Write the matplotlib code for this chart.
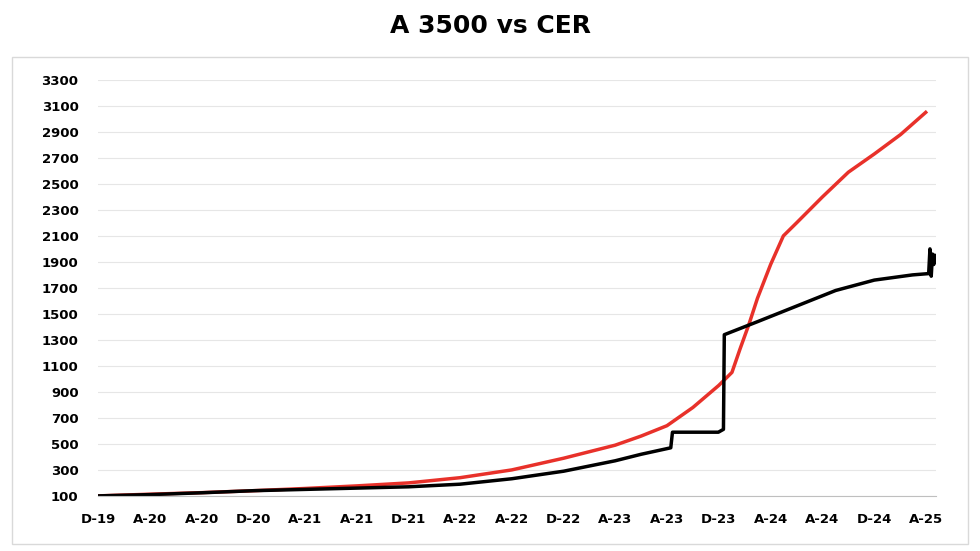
import pandas as pd
import matplotlib.pyplot as plt
from matplotlib.patches import Rectangle

# CER index (base 100 = Dec-19), monthly
cer_dates = ["2019-12-01", "2020-04-01", "2020-08-01", "2020-12-01", "2021-04-01",
             "2021-08-01", "2021-12-01", "2022-04-01", "2022-08-01", "2022-12-01",
             "2023-04-01", "2023-06-01", "2023-08-01", "2023-10-01", "2023-12-01",
             "2024-01-01", "2024-01-20", "2024-02-10", "2024-03-01", "2024-04-01",
             "2024-05-01", "2024-06-01", "2024-08-01", "2024-10-01", "2024-12-01",
             "2025-02-01", "2025-04-01"]
cer_vals = [100, 113, 125, 140, 157, 177, 200, 240, 300, 390, 490, 560, 640, 780, 950,
            1050, 1230, 1420, 1620, 1880, 2100, 2200, 2400, 2590, 2730, 2880, 3050]

# A 3500 rebased (100 = Dec-19)
fx_dates = ["2019-12-01", "2020-04-01", "2020-08-01", "2020-12-01", "2021-04-01",
            "2021-08-01", "2021-12-01", "2022-04-01", "2022-08-01", "2022-12-01",
            "2023-04-01", "2023-06-01", "2023-08-10", "2023-08-14", "2023-11-30",
            "2023-12-12", "2023-12-14", "2024-03-01", "2024-06-01", "2024-09-01",
            "2024-12-01", "2025-03-01", "2025-04-08", "2025-04-11", "2025-04-14",
            "2025-04-17", "2025-04-20", "2025-04-23"]
fx_vals = [100, 110, 124, 140, 150, 160, 170, 190, 232, 290, 370, 420, 470, 590, 590,
           612, 1340, 1440, 1560, 1680, 1760, 1800, 1810, 2000, 1790, 1960, 1880, 1950]

tick_dates = pd.date_range("2019-12-01", "2025-04-01", freq="4MS")
tick_labels = ["D-19", "A-20", "A-20", "D-20", "A-21", "A-21", "D-21", "A-22", "A-22",
               "D-22", "A-23", "A-23", "D-23", "A-24", "A-24", "D-24", "A-25"]

fig = plt.figure(figsize=(9.8, 5.51), dpi=100)
ax = fig.add_axes([0.1, 0.1, 0.855, 0.755])
fig.patches.append(Rectangle((0.012, 0.012), 0.976, 0.885, transform=fig.transFigure,
                             fill=False, edgecolor="#d9d9d9", linewidth=1))

ax.plot(pd.to_datetime(cer_dates), cer_vals, color="#e8312a", linewidth=2.5)
ax.plot(pd.to_datetime(fx_dates), fx_vals, color="black", linewidth=2.5)

ax.set_ylim(100, 3300)
ax.set_yticks(range(100, 3301, 200))
ax.set_xlim(pd.Timestamp("2019-12-01"), pd.Timestamp("2025-04-25"))
ax.set_xticks(tick_dates)
ax.set_xticklabels(tick_labels)
ax.grid(axis="y", color="#e6e6e6", linewidth=0.8)
ax.set_axisbelow(True)
for s in ["top", "right", "left"]:
    ax.spines[s].set_visible(False)
ax.spines["bottom"].set_color("#bfbfbf")
ax.tick_params(axis="x", length=0, labelsize=9.5, pad=12)
ax.tick_params(axis="y", length=0, labelsize=9.5, pad=14)
for lab in ax.get_xticklabels() + ax.get_yticklabels():
    lab.set_fontweight("bold")

fig.suptitle("A 3500 vs CER", fontsize=18, fontweight="bold", y=0.975)

fig.savefig("out.png")
